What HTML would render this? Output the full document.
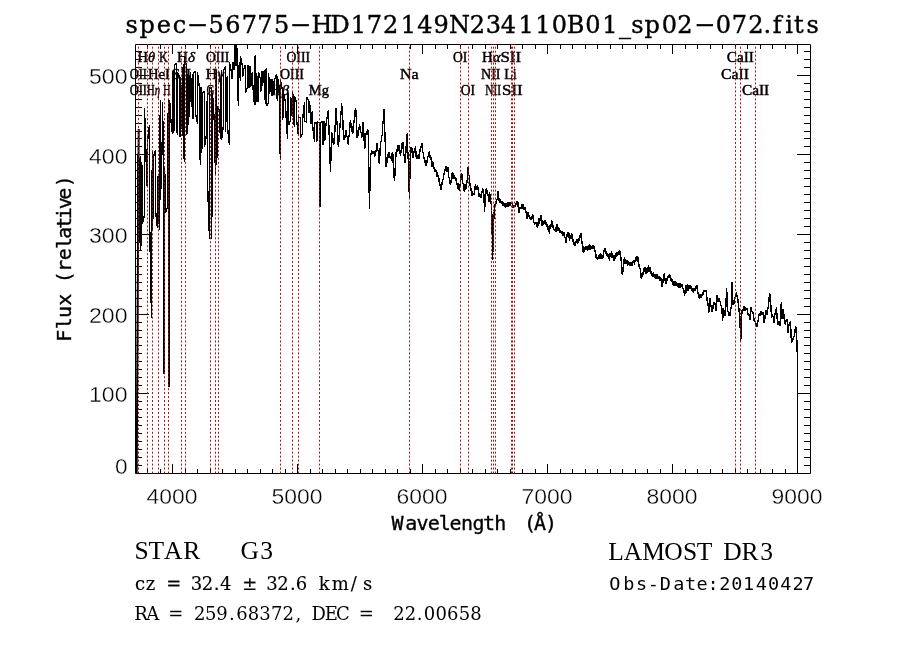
<!DOCTYPE html>
<html><head><meta charset="utf-8"><title>spec-56775-HD172149N234110B01_sp02-072.fits</title>
<style>html,body{margin:0;padding:0;background:#fff;overflow:hidden}svg{display:block}</style>
</head><body><svg width="900" height="649" viewBox="0 0 900 649"><rect x="0" y="0" width="900" height="649" fill="#fff"/><path d="M136.7 473.5L138.7 129" stroke="#000" stroke-width="2" fill="none"/><path d="M138.50 155.00 L137.50 156.00 L137.50 262.00 L139.50 231.38 L139.50 162.26 L140.50 156.00 L140.50 250.00 L141.50 238.00 L141.50 162.00 L142.50 170.00 L142.50 223.50 L144.50 215.00 L144.50 108.00 L146.50 170.54 L146.50 183.84 L147.50 186.23 L147.50 141.89 L149.50 125.00 L149.50 215.00 L151.50 318.00 L151.50 220.00 L152.50 150.00 L152.50 230.00 L153.50 195.28 L153.50 156.41 L155.50 150.00 L155.50 210.00 L157.50 228.28 L157.50 177.32 L158.50 176.39 L158.50 210.81 L159.50 230.00 L159.50 152.00 L160.50 100.00 L160.50 200.00 L162.50 131.64 L162.50 102.36 L163.50 160.00 L163.50 373.00 L164.50 374.00 L164.50 166.00 L165.50 190.07 L165.50 213.23 L167.50 207.09 L167.50 145.98 L168.50 100.00 L168.50 386.00 L169.50 386.00 L169.50 100.00 L170.50 110.28 L170.50 116.29 L172.50 134.33 L172.50 75.33 L173.50 70.00 L173.50 133.00 L174.50 127.67 L174.50 65.33 L176.50 63.00 L176.50 130.00 L177.50 134.67 L177.50 72.33 L179.50 77.00 L179.50 137.00 L180.50 136.33 L180.50 77.00 L181.50 103.06 L181.50 111.83 L182.50 136.00 L182.50 77.00 L183.50 63.67 L183.50 153.33 L184.50 162.00 L184.50 57.00 L186.50 66.67 L186.50 135.33 L187.50 130.21 L187.50 78.51 L188.50 72.00 L188.50 125.00 L189.50 101.10 L189.50 84.82 L190.50 71.68 L190.50 91.39 L191.50 106.56 L191.50 89.15 L192.50 74.00 L192.50 118.33 L193.50 118.33 L193.50 73.67 L195.50 71.00 L195.50 113.00 L197.50 124.00 L197.50 72.00 L199.50 88.00 L199.50 148.33 L200.50 165.00 L200.50 88.00 L201.50 88.00 L201.50 153.00 L202.50 139.64 L202.50 93.00 L204.50 91.33 L204.50 147.00 L206.50 134.42 L206.50 119.81 L207.50 93.00 L207.50 182.33 L209.50 239.00 L209.50 88.00 L211.50 88.00 L211.50 239.00 L212.50 168.77 L212.50 93.43 L214.50 124.70 L214.50 133.01 L215.50 175.00 L215.50 70.00 L216.50 71.33 L216.50 165.00 L217.50 143.15 L217.50 105.72 L219.50 110.74 L219.50 117.18 L220.50 138.57 L220.50 98.61 L221.50 70.00 L221.50 140.00 L223.50 125.00 L223.50 70.00 L225.50 66.67 L225.50 131.67 L226.50 101.89 L226.50 80.14 L227.50 76.13 L227.50 127.06 L229.50 145.00 L229.50 62.00 L231.50 72.16 L231.50 77.38 L232.50 78.77 L232.50 62.59 L233.50 62.34 L233.50 69.12 L234.50 70.00 L234.50 46.33 L235.50 44.00 L235.50 65.00 L236.50 65.00 L236.50 44.00 L237.50 55.43 L237.50 89.77 L238.50 106.00 L238.50 72.00 L239.50 62.24 L239.50 71.67 L240.50 81.00 L240.50 56.00 L242.50 66.45 L242.50 77.15 L243.50 73.26 L243.50 69.33 L245.50 65.00 L245.50 93.00 L247.50 87.00 L247.50 66.00 L248.50 66.00 L248.50 87.00 L249.50 87.00 L249.50 66.67 L250.50 67.00 L250.50 87.00 L251.50 82.79 L251.50 76.04 L252.50 72.32 L252.50 81.76 L254.50 104.90 L254.50 59.58 L255.50 55.00 L255.50 105.00 L256.50 96.94 L256.50 72.72 L257.50 83.76 L257.50 100.41 L258.50 102.00 L258.50 72.00 L260.50 79.11 L260.50 92.14 L261.50 86.87 L261.50 71.76 L262.50 71.97 L262.50 85.50 L263.50 78.56 L263.50 73.71 L264.50 70.12 L264.50 90.40 L265.50 103.69 L265.50 70.61 L266.50 68.00 L266.50 106.00 L268.50 102.33 L268.50 73.00 L269.50 86.18 L269.50 93.76 L270.50 87.94 L270.50 80.14 L271.50 79.00 L271.50 95.00 L272.50 95.00 L272.50 79.00 L273.50 85.66 L273.50 93.71 L274.50 92.67 L274.50 80.22 L276.50 74.24 L276.50 92.07 L277.50 101.33 L277.50 76.00 L279.50 95.37 L279.50 138.07 L280.50 160.00 L280.50 80.00 L282.50 90.00 L282.50 119.67 L283.50 115.33 L283.50 92.00 L285.50 102.63 L285.50 105.78 L287.50 139.00 L287.50 88.00 L288.50 102.96 L288.50 125.34 L290.50 119.91 L290.50 97.38 L291.50 99.42 L291.50 113.91 L292.50 117.00 L292.50 90.67 L293.50 101.26 L293.50 118.43 L294.50 127.00 L294.50 96.00 L296.50 102.38 L296.50 118.91 L298.50 136.00 L298.50 117.00 L300.50 117.67 L300.50 138.00 L302.50 133.75 L302.50 121.04 L304.50 102.33 L304.50 121.33 L306.50 122.00 L306.50 97.00 L308.50 100.41 L308.50 110.48 L309.50 113.39 L309.50 101.20 L310.50 112.85 L310.50 122.89 L311.50 123.54 L311.50 114.77 L312.50 110.90 L312.50 124.33 L314.50 142.00 L314.50 123.00 L316.50 122.67 L316.50 141.33 L317.50 140.00 L317.50 122.00 L319.50 123.00 L319.50 206.00 L320.50 206.00 L320.50 123.00 L322.50 121.00 L322.50 144.00 L323.50 144.00 L323.50 121.00 L324.50 122.33 L324.50 141.33 L325.50 137.92 L325.50 127.65 L328.33 110.00 L328.89 128.00 L329.44 139.07 L330.00 158.94 L330.56 172.22 L331.11 149.69 L331.67 133.33 L332.22 133.67 L332.78 143.23 L333.33 140.02 L333.89 144.44 L334.44 133.93 L335.00 130.74 L335.56 115.07 L336.11 107.78 L336.67 118.84 L337.22 125.27 L337.78 138.59 L338.33 146.67 L338.89 141.43 L339.44 130.89 L340.00 127.13 L340.56 116.20 L341.11 113.15 L341.67 103.33 L342.22 114.88 L342.78 118.96 L343.33 133.38 L343.89 140.00 L344.44 135.60 L345.00 138.12 L345.56 131.15 L346.11 131.11 L346.67 136.94 L347.22 136.22 L347.78 143.47 L348.33 144.44 L348.89 136.37 L349.44 134.69 L350.00 124.22 L350.56 120.00 L351.11 126.46 L351.67 123.89 L352.22 131.89 L352.78 133.33 L353.36 131.00 L353.93 121.00 L354.51 119.65 L355.09 110.16 L355.67 107.78 L356.19 116.07 L356.70 130.51 L357.22 137.78 L357.78 136.98 L358.33 128.70 L358.89 129.86 L359.44 124.44 L360.00 126.39 L360.56 133.27 L361.11 132.39 L361.67 137.78 L362.19 134.41 L362.70 125.17 L363.22 122.22 L363.89 134.21 L364.56 148.89 L365.07 145.88 L365.59 136.02 L366.11 133.33 L366.67 131.37 L367.22 135.09 L367.78 129.45 L368.33 132.22 L368.89 172.23 L369.44 208.89 L370.00 182.93 L370.56 153.33 L371.11 154.87 L371.67 150.51 L372.22 153.65 L372.78 151.11 L373.33 153.56 L373.89 151.40 L374.44 155.91 L375.00 155.56 L375.56 150.89 L376.11 151.97 L376.67 143.34 L377.22 143.33 L377.78 150.15 L378.33 151.57 L378.89 160.80 L379.44 164.44 L380.00 151.26 L380.56 142.22 L381.15 141.89 L381.74 136.00 L382.33 135.56 L382.85 122.77 L383.37 120.39 L383.89 108.89 L384.44 125.10 L385.00 135.36 L385.56 153.90 L386.11 166.67 L386.67 164.69 L387.22 157.26 L387.78 158.22 L388.33 153.33 L388.89 152.37 L389.44 157.98 L390.00 155.89 L390.56 158.89 L391.11 155.91 L391.67 161.11 L392.22 152.67 L392.78 153.33 L393.30 165.24 L393.81 168.25 L394.33 181.11 L394.93 174.33 L395.52 160.97 L396.11 153.33 L396.67 148.69 L397.22 152.07 L397.78 145.47 L398.33 145.56 L398.89 145.67 L399.44 154.06 L400.00 151.44 L400.56 155.56 L401.11 149.66 L401.67 150.70 L402.22 142.95 L402.78 142.22 L403.33 144.87 L403.89 154.90 L404.44 154.94 L405.00 163.33 L405.56 158.32 L406.11 146.52 L406.67 143.31 L407.22 133.33 L407.78 151.08 L408.33 161.76 L408.89 183.81 L409.44 197.78 L410.00 170.51 L410.56 146.67 L411.11 147.85 L411.67 153.10 L412.22 148.51 L412.78 156.67 L413.33 157.50 L413.89 151.30 L414.44 152.50 L415.00 148.89 L415.56 145.66 L416.11 156.64 L416.67 154.65 L417.22 158.89 L417.78 158.39 L418.33 153.64 L418.89 159.00 L419.44 151.11 L420.00 151.14 L420.56 145.83 L421.11 148.03 L421.67 143.33 L422.22 143.30 L422.78 153.33 L423.33 151.83 L423.89 157.78 L424.44 157.61 L425.00 163.34 L425.56 159.77 L426.11 165.56 L426.69 160.61 L427.27 162.93 L427.84 155.80 L428.42 156.66 L429.00 152.22 L429.53 152.02 L430.07 157.45 L430.60 154.69 L431.13 159.78 L431.67 160.00 L432.22 166.88 L432.78 161.22 L433.33 168.40 L433.89 168.89 L434.44 166.85 L435.00 172.05 L435.56 169.14 L436.11 171.11 L436.67 170.31 L437.22 176.98 L437.78 174.65 L438.33 177.78 L438.89 178.82 L439.44 184.85 L440.00 184.76 L440.56 188.89 L441.11 189.17 L441.67 181.88 L442.22 184.56 L442.78 180.00 L443.33 179.31 L443.89 173.25 L444.44 174.73 L445.00 168.60 L445.56 171.00 L446.11 166.67 L446.67 166.44 L447.22 171.69 L447.78 166.73 L448.33 173.33 L448.89 177.50 L449.44 177.38 L450.00 183.36 L450.56 184.44 L451.11 180.04 L451.67 181.09 L452.22 172.36 L452.78 174.44 L453.33 173.32 L453.89 178.51 L454.44 174.90 L455.00 177.78 L455.56 181.36 L456.11 178.45 L456.67 184.49 L457.22 184.44 L457.78 182.90 L458.33 190.39 L458.89 187.00 L459.44 191.11 L460.00 184.33 L460.56 184.08 L461.11 175.37 L461.67 173.33 L462.22 174.86 L462.78 183.82 L463.33 184.16 L463.89 190.00 L464.44 191.88 L465.00 183.84 L465.56 190.16 L466.11 187.78 L466.67 180.11 L467.22 183.17 L467.78 169.70 L468.33 166.67 L468.89 175.70 L469.44 176.79 L470.00 185.55 L470.69 186.66 L471.39 192.48 L471.91 195.59 L472.43 190.67 L472.95 195.07 L473.47 193.87 L474.16 194.45 L474.85 189.71 L475.37 184.21 L475.89 189.80 L476.41 185.96 L476.93 186.93 L477.63 185.45 L478.32 191.10 L479.02 197.37 L479.71 193.87 L480.26 194.34 L480.82 198.03 L481.79 193.18 L482.48 189.26 L483.18 189.71 L483.87 194.56 L484.56 211.90 L485.53 193.87 L486.09 189.32 L486.64 189.02 L487.34 194.59 L488.03 195.26 L488.55 194.05 L489.07 201.72 L489.59 191.58 L490.11 197.34 L491.08 202.19 L491.91 216.06 L492.61 259.75 L493.58 224.38 L494.41 207.74 L495.03 204.59 L495.66 204.97 L496.35 200.10 L497.05 199.42 L497.60 197.23 L498.16 191.10 L499.13 200.80 L499.82 202.44 L500.51 199.42 L501.21 202.32 L501.90 201.50 L502.59 206.37 L503.29 203.58 L503.98 202.77 L504.67 207.05 L505.19 204.71 L505.71 208.27 L506.23 203.22 L506.75 205.66 L507.27 207.02 L507.79 202.09 L508.31 207.23 L508.83 202.19 L509.53 206.17 L510.22 204.97 L510.92 201.97 L511.61 204.27 L512.13 202.72 L512.65 208.28 L513.17 204.96 L513.69 207.74 L514.38 204.69 L515.08 207.05 L515.77 203.55 L516.46 204.97 L517.16 201.75 L517.85 202.19 L518.54 210.35 L519.24 213.29 L519.93 207.96 L520.62 207.74 L521.23 208.41 L521.83 203.94 L522.43 205.66 L522.98 209.33 L523.54 203.91 L524.09 209.82 L524.79 207.57 L525.48 209.13 L526.17 212.37 L526.87 218.83 L527.56 217.07 L528.25 211.90 L528.95 216.07 L529.64 216.06 L530.33 219.85 L531.03 218.83 L531.72 219.12 L532.41 214.67 L533.11 215.93 L533.80 221.61 L534.49 224.21 L535.19 223.69 L535.88 222.24 L536.57 224.38 L537.27 227.44 L537.96 225.77 L538.49 218.37 L539.01 224.14 L539.54 218.22 L540.06 220.55 L540.59 215.71 L541.11 215.56 L541.67 217.89 L542.22 225.56 L542.78 223.03 L543.33 225.40 L543.89 220.68 L544.44 222.22 L545.00 224.16 L545.56 220.40 L546.11 224.52 L546.67 223.33 L547.22 226.45 L547.78 225.28 L548.33 230.97 L548.89 230.00 L549.44 234.00 L550.00 225.03 L550.56 228.48 L551.11 225.56 L551.67 219.92 L552.22 224.44 L552.78 227.60 L553.33 225.11 L553.89 230.31 L554.44 228.89 L555.00 230.51 L555.56 227.09 L556.11 231.55 L556.67 228.89 L557.22 223.77 L557.78 231.22 L558.33 227.55 L558.89 230.00 L559.44 227.94 L560.00 232.64 L560.56 230.34 L561.11 232.22 L561.67 233.89 L562.22 231.28 L562.78 235.62 L563.33 233.33 L563.89 231.82 L564.44 238.03 L565.00 236.86 L565.56 240.00 L566.11 242.97 L566.67 233.78 L567.22 236.46 L567.78 232.22 L568.33 236.09 L568.89 232.78 L569.44 241.36 L570.00 236.67 L570.56 234.74 L571.11 239.31 L571.67 233.44 L572.22 237.78 L572.78 242.06 L573.33 238.82 L573.89 245.19 L574.44 244.44 L575.00 242.49 L575.56 245.42 L576.11 241.03 L576.67 243.33 L577.22 239.23 L577.78 243.67 L578.33 238.06 L578.89 240.00 L579.44 240.30 L580.00 234.77 L580.56 237.62 L581.11 233.33 L581.67 240.32 L582.22 244.44 L582.78 245.79 L583.33 253.33 L583.89 251.77 L584.44 246.67 L585.00 249.73 L585.56 246.02 L586.11 250.00 L586.67 248.89 L587.22 246.53 L587.78 250.51 L588.33 245.77 L588.89 246.67 L589.44 244.16 L590.00 249.77 L590.56 245.40 L591.11 247.78 L591.67 245.76 L592.22 249.08 L592.78 245.50 L593.33 246.67 L593.89 249.14 L594.44 246.61 L595.00 251.75 L595.56 251.11 L596.11 257.42 L596.67 258.89 L597.22 256.81 L597.78 259.57 L598.33 255.82 L598.89 256.67 L599.44 253.72 L600.00 258.87 L600.56 253.15 L601.11 255.56 L601.67 254.61 L602.22 258.83 L602.78 254.75 L603.33 257.78 L603.89 251.49 L604.44 248.89 L605.00 248.10 L605.56 253.88 L606.11 250.67 L606.67 253.33 L607.22 256.31 L607.78 253.42 L608.33 258.23 L608.89 256.67 L609.44 260.47 L610.00 253.54 L610.56 256.41 L611.11 253.33 L611.67 251.50 L612.22 258.38 L612.78 254.91 L613.33 258.89 L613.89 260.63 L614.44 255.50 L615.00 258.59 L615.56 255.56 L616.11 253.34 L616.67 257.12 L617.22 252.22 L617.78 254.44 L618.33 251.09 L618.89 254.94 L619.44 250.32 L620.00 252.22 L620.56 254.21 L621.11 260.00 L621.63 262.27 L622.15 274.44 L622.67 273.33 L623.33 268.42 L624.00 260.00 L624.53 257.08 L625.07 263.52 L625.60 258.58 L626.13 263.94 L626.67 262.22 L627.22 260.39 L627.78 265.51 L628.33 260.81 L628.89 263.33 L629.44 265.67 L630.00 261.76 L630.56 265.71 L631.11 264.44 L631.67 261.76 L632.22 265.74 L632.78 260.91 L633.33 263.33 L633.89 260.41 L634.44 265.35 L635.00 260.50 L635.56 262.22 L636.11 257.02 L636.67 256.67 L637.22 260.60 L637.78 256.49 L638.33 263.83 L638.89 264.44 L639.44 268.70 L640.00 267.78 L640.56 269.98 L641.11 277.78 L641.67 278.52 L642.22 272.49 L642.78 274.81 L643.33 271.11 L643.89 268.08 L644.44 271.99 L645.00 267.53 L645.56 270.00 L646.11 274.04 L646.67 267.83 L647.22 273.22 L647.78 271.11 L648.33 265.44 L648.89 271.57 L649.44 266.79 L650.00 267.78 L650.56 268.27 L651.11 273.60 L651.67 272.13 L652.22 275.56 L652.78 277.30 L653.33 272.41 L653.89 277.04 L654.44 274.44 L655.00 277.58 L655.56 274.05 L656.11 278.42 L656.67 277.78 L657.22 273.62 L657.78 279.38 L658.33 275.85 L658.89 277.78 L659.44 276.32 L660.00 280.98 L660.56 276.99 L661.11 278.89 L661.67 277.97 L662.22 287.08 L662.78 279.53 L663.33 283.33 L663.89 276.22 L664.44 273.33 L665.00 280.34 L665.56 282.22 L666.11 283.47 L666.67 278.50 L667.22 281.03 L667.78 277.78 L668.33 275.12 L668.89 278.19 L669.44 274.39 L670.00 275.56 L670.56 275.60 L671.11 280.89 L671.67 278.35 L672.22 282.22 L672.78 284.84 L673.33 281.39 L673.89 285.39 L674.44 283.33 L675.00 280.97 L675.56 285.93 L676.11 282.67 L676.67 284.44 L677.22 286.15 L677.78 282.65 L678.33 287.60 L678.89 285.56 L679.44 287.43 L680.00 283.07 L680.56 287.78 L681.11 284.44 L681.67 286.70 L682.22 283.79 L682.78 288.76 L683.33 287.78 L683.89 290.33 L684.44 295.56 L685.00 292.79 L685.56 286.67 L686.11 285.86 L686.67 292.95 L687.22 284.38 L687.78 288.89 L688.33 291.15 L688.89 285.32 L689.44 288.65 L690.00 285.56 L690.56 288.38 L691.11 286.00 L691.67 290.72 L692.22 290.00 L692.78 287.71 L693.33 293.16 L693.89 288.51 L694.44 291.11 L695.00 288.13 L695.56 291.34 L696.11 286.36 L696.67 287.78 L697.22 285.47 L697.78 293.84 L698.33 292.33 L698.89 296.67 L699.46 298.63 L700.04 294.51 L700.61 296.28 L701.22 298.26 L701.83 295.67 L702.44 292.50 L703.06 294.45 L703.67 290.96 L704.28 290.17 L704.89 292.01 L705.50 290.78 L706.11 290.91 L706.72 296.28 L707.33 302.22 L707.95 303.01 L708.80 312.79 L709.78 298.12 L710.39 303.66 L711.00 305.45 L711.61 310.34 L712.22 311.44 L712.84 309.12 L713.45 303.25 L714.06 301.78 L714.67 305.08 L715.28 303.01 L716.14 310.95 L717.11 295.06 L718.09 301.78 L718.70 298.09 L719.32 299.34 L720.17 301.78 L720.78 305.84 L721.39 306.06 L722.00 309.29 L722.62 321.34 L723.47 307.90 L724.45 314.01 L725.06 315.51 L725.67 310.34 L726.65 288.34 L727.51 310.34 L728.36 312.18 L728.89 316.06 L729.42 312.12 L729.95 315.84 L730.56 309.36 L731.17 307.90 L732.03 282.22 L733.01 304.23 L733.62 304.86 L734.23 300.56 L734.84 296.72 L735.45 298.12 L736.31 292.62 L737.29 296.89 L737.90 299.79 L738.51 305.45 L739.12 311.47 L739.73 314.01 L740.71 342.13 L741.56 316.45 L742.18 310.71 L742.79 309.12 L743.40 311.35 L744.01 306.04 L744.62 307.90 L745.15 310.67 L745.68 307.38 L746.21 309.12 L746.94 308.40 L747.68 312.79 L748.29 314.85 L748.90 314.01 L749.88 320.12 L750.49 311.23 L751.10 307.29 L751.71 311.77 L752.32 312.18 L752.93 312.42 L753.55 315.84 L754.16 320.75 L754.77 321.34 L755.50 322.26 L756.23 326.23 L756.85 326.87 L757.46 321.34 L758.07 321.35 L758.68 316.45 L759.41 313.50 L760.15 314.01 L760.68 315.94 L761.21 311.46 L761.74 312.18 L762.27 315.40 L762.80 311.70 L763.33 314.62 L764.06 322.48 L764.79 319.51 L765.40 312.63 L766.01 310.34 L766.63 314.64 L767.24 314.01 L767.85 308.78 L768.46 306.67 L769.07 298.01 L769.68 293.23 L770.66 302.40 L771.52 317.68 L772.13 314.42 L772.74 315.84 L773.35 317.53 L773.96 322.57 L774.57 313.36 L775.18 314.01 L775.79 312.60 L776.41 306.67 L777.02 316.89 L777.63 323.79 L778.24 324.34 L778.85 321.34 L779.46 325.37 L780.07 325.01 L780.68 311.93 L781.30 302.40 L782.15 318.90 L783.13 309.12 L783.74 313.07 L784.35 320.12 L784.96 323.56 L785.57 323.79 L786.19 319.82 L786.80 318.90 L787.41 323.46 L788.02 332.96 L788.63 326.57 L789.24 323.79 L789.85 324.09 L790.46 320.73 L791.44 343.35 L792.30 340.29 L792.91 339.83 L793.52 336.01 L794.13 336.90 L794.74 333.57 L795.60 326.23 L796.33 329.90 L797.19 348.24 L797.80 473.30" stroke="#000" stroke-width="1.4" fill="none" stroke-linejoin="miter" stroke-miterlimit="2" shape-rendering="crispEdges"/><path d="M135.5 44.5H810.5V473.5H135.5ZM147.5 473v-4M147.5 45v4M160.5 473v-4M160.5 45v4M172.5 473v-9M172.5 45v9M185.5 473v-4M185.5 45v4M197.5 473v-4M197.5 45v4M210.5 473v-4M210.5 45v4M222.5 473v-4M222.5 45v4M235.5 473v-4M235.5 45v4M247.5 473v-4M247.5 45v4M260.5 473v-4M260.5 45v4M272.5 473v-4M272.5 45v4M285.5 473v-4M285.5 45v4M297.5 473v-9M297.5 45v9M310.5 473v-4M310.5 45v4M322.5 473v-4M322.5 45v4M335.5 473v-4M335.5 45v4M347.5 473v-4M347.5 45v4M360.5 473v-4M360.5 45v4M372.5 473v-4M372.5 45v4M385.5 473v-4M385.5 45v4M397.5 473v-4M397.5 45v4M410.5 473v-4M410.5 45v4M422.5 473v-9M422.5 45v9M435.5 473v-4M435.5 45v4M447.5 473v-4M447.5 45v4M460.5 473v-4M460.5 45v4M472.5 473v-4M472.5 45v4M485.5 473v-4M485.5 45v4M497.5 473v-4M497.5 45v4M510.5 473v-4M510.5 45v4M522.5 473v-4M522.5 45v4M535.5 473v-4M535.5 45v4M547.5 473v-9M547.5 45v9M560.5 473v-4M560.5 45v4M572.5 473v-4M572.5 45v4M585.5 473v-4M585.5 45v4M597.5 473v-4M597.5 45v4M610.5 473v-4M610.5 45v4M622.5 473v-4M622.5 45v4M635.5 473v-4M635.5 45v4M647.5 473v-4M647.5 45v4M660.5 473v-4M660.5 45v4M672.5 473v-9M672.5 45v9M685.5 473v-4M685.5 45v4M697.5 473v-4M697.5 45v4M710.5 473v-4M710.5 45v4M722.5 473v-4M722.5 45v4M735.5 473v-4M735.5 45v4M747.5 473v-4M747.5 45v4M760.5 473v-4M760.5 45v4M772.5 473v-4M772.5 45v4M785.5 473v-4M785.5 45v4M797.5 473v-9M797.5 45v9M136 465.5h6M810 465.5h-6M136 457.5h6M810 457.5h-6M136 449.5h6M810 449.5h-6M136 441.5h6M810 441.5h-6M136 433.5h6M810 433.5h-6M136 425.5h6M810 425.5h-6M136 417.5h6M810 417.5h-6M136 409.5h6M810 409.5h-6M136 401.5h6M810 401.5h-6M136 393.5h13M810 393.5h-13M136 385.5h6M810 385.5h-6M136 377.5h6M810 377.5h-6M136 369.5h6M810 369.5h-6M136 361.5h6M810 361.5h-6M136 353.5h6M810 353.5h-6M136 345.5h6M810 345.5h-6M136 337.5h6M810 337.5h-6M136 330.5h6M810 330.5h-6M136 322.5h6M810 322.5h-6M136 314.5h13M810 314.5h-13M136 306.5h6M810 306.5h-6M136 298.5h6M810 298.5h-6M136 290.5h6M810 290.5h-6M136 282.5h6M810 282.5h-6M136 274.5h6M810 274.5h-6M136 266.5h6M810 266.5h-6M136 258.5h6M810 258.5h-6M136 250.5h6M810 250.5h-6M136 242.5h6M810 242.5h-6M136 234.5h13M810 234.5h-13M136 226.5h6M810 226.5h-6M136 218.5h6M810 218.5h-6M136 210.5h6M810 210.5h-6M136 202.5h6M810 202.5h-6M136 194.5h6M810 194.5h-6M136 186.5h6M810 186.5h-6M136 178.5h6M810 178.5h-6M136 170.5h6M810 170.5h-6M136 162.5h6M810 162.5h-6M136 154.5h13M810 154.5h-13M136 146.5h6M810 146.5h-6M136 138.5h6M810 138.5h-6M136 131.5h6M810 131.5h-6M136 123.5h6M810 123.5h-6M136 115.5h6M810 115.5h-6M136 107.5h6M810 107.5h-6M136 99.5h6M810 99.5h-6M136 91.5h6M810 91.5h-6M136 83.5h6M810 83.5h-6M136 75.5h13M810 75.5h-13M136 67.5h6M810 67.5h-6M136 59.5h6M810 59.5h-6M136 51.5h6M810 51.5h-6" stroke="#000" stroke-width="1" fill="none"/><g transform="scale(1.0,1)"><text x="131.7 147.2 163.9 179.5" y="32.5" font-size="24" font-family="DejaVu Serif, serif" font-weight="normal" text-anchor="middle" xml:space="preserve" stroke="#000" stroke-width="0.4">spec</text></g><text transform="translate(197.5,0) scale(2.6,1)" x="0" y="32.5" font-size="24" font-family="DejaVu Serif, serif" text-anchor="middle" stroke="#000" stroke-width="0.3">-</text><g transform="scale(1.0,1)"><text x="216.1 232.8 249.5 265.0 281.7" y="32.5" font-size="24" font-family="DejaVu Serif, serif" font-weight="normal" text-anchor="middle" xml:space="preserve" stroke="#000" stroke-width="0.4">56775</text></g><text transform="translate(300.6,0) scale(2.6,1)" x="0" y="32.5" font-size="24" font-family="DejaVu Serif, serif" text-anchor="middle" stroke="#000" stroke-width="0.3">-</text><g transform="scale(1.0,1)"><text x="322.0 340.0 358.4 374.5 390.6 408.4 425.0 441.1 459.5 477.3 493.3 508.4 526.2 542.8 559.5 575.6 592.8 610.0 625.0 637.3 652.2 669.5 685.0" y="32.5" font-size="24" font-family="DejaVu Serif, serif" font-weight="normal" text-anchor="middle" xml:space="preserve" stroke="#000" stroke-width="0.4">HD172149N234110B01_sp02</text></g><text transform="translate(704.7,0) scale(2.6,1)" x="0" y="32.5" font-size="24" font-family="DejaVu Serif, serif" text-anchor="middle" stroke="#000" stroke-width="0.3">-</text><g transform="scale(1.0,1)"><text x="723.4 739.4 755.8 767.4 777.1 789.2 798.9 812.7" y="32.5" font-size="24" font-family="DejaVu Serif, serif" font-weight="normal" text-anchor="middle" xml:space="preserve" stroke="#000" stroke-width="0.4">072.fits</text></g><text x="171.9" y="504" font-size="22" font-family="Liberation Sans, sans-serif" text-anchor="middle" textLength="51" lengthAdjust="spacingAndGlyphs" stroke="#fff" stroke-width="0.35">4000</text><text x="296.9" y="504" font-size="22" font-family="Liberation Sans, sans-serif" text-anchor="middle" textLength="51" lengthAdjust="spacingAndGlyphs" stroke="#fff" stroke-width="0.35">5000</text><text x="421.9" y="504" font-size="22" font-family="Liberation Sans, sans-serif" text-anchor="middle" textLength="51" lengthAdjust="spacingAndGlyphs" stroke="#fff" stroke-width="0.35">6000</text><text x="546.9" y="504" font-size="22" font-family="Liberation Sans, sans-serif" text-anchor="middle" textLength="51" lengthAdjust="spacingAndGlyphs" stroke="#fff" stroke-width="0.35">7000</text><text x="671.9" y="504" font-size="22" font-family="Liberation Sans, sans-serif" text-anchor="middle" textLength="51" lengthAdjust="spacingAndGlyphs" stroke="#fff" stroke-width="0.35">8000</text><text x="796.9" y="504" font-size="22" font-family="Liberation Sans, sans-serif" text-anchor="middle" textLength="51" lengthAdjust="spacingAndGlyphs" stroke="#fff" stroke-width="0.35">9000</text><text x="127.5" y="473.6" font-size="22" font-family="Liberation Sans, sans-serif" text-anchor="end" textLength="12.6" lengthAdjust="spacingAndGlyphs" stroke="#fff" stroke-width="0.35">0</text><text x="127.5" y="402.3" font-size="22" font-family="Liberation Sans, sans-serif" text-anchor="end" textLength="38.5" lengthAdjust="spacingAndGlyphs" stroke="#fff" stroke-width="0.35">100</text><text x="127.5" y="322.70000000000005" font-size="22" font-family="Liberation Sans, sans-serif" text-anchor="end" textLength="38.5" lengthAdjust="spacingAndGlyphs" stroke="#fff" stroke-width="0.35">200</text><text x="127.5" y="243.1" font-size="22" font-family="Liberation Sans, sans-serif" text-anchor="end" textLength="38.5" lengthAdjust="spacingAndGlyphs" stroke="#fff" stroke-width="0.35">300</text><text x="127.5" y="163.49999999999997" font-size="22" font-family="Liberation Sans, sans-serif" text-anchor="end" textLength="38.5" lengthAdjust="spacingAndGlyphs" stroke="#fff" stroke-width="0.35">400</text><text x="127.5" y="83.9" font-size="22" font-family="Liberation Sans, sans-serif" text-anchor="end" textLength="38.5" lengthAdjust="spacingAndGlyphs" stroke="#fff" stroke-width="0.35">500</text><text x="397.6 411.3 422.5 433.7 444.8 455.5 467.1 478.4 489.1 500.3 515.1 530.0 540.1 550.9" y="529.5" font-size="20" font-family="DejaVu Sans Mono, monospace" font-weight="normal" text-anchor="middle" xml:space="preserve" stroke="#000" stroke-width="0.35">Wavelength (Å)</text><g transform="translate(71,0) rotate(-90)"><text x="-335.8 -323.3 -311.9 -299.8 -288.5 -277.3 -266.1 -254.3 -242.9 -232.8 -222.8 -213.3 -203.2 -193.8 -181.3" y="0" font-size="20" font-family="DejaVu Sans Mono, monospace" font-weight="normal" text-anchor="middle" xml:space="preserve" stroke="#000" stroke-width="0.35">Flux (relative)</text></g><text x="137.4" y="61.5" font-size="14.5" font-family="Liberation Serif, serif" text-anchor="start" textLength="17.6" lengthAdjust="spacingAndGlyphs" stroke="#000" stroke-width="0.45">H<tspan font-style="italic">&#952;</tspan></text><text x="159.1" y="61.5" font-size="14.5" font-family="Liberation Serif, serif" text-anchor="start" textLength="8.9" lengthAdjust="spacingAndGlyphs" stroke="#000" stroke-width="0.45">K</text><text x="177" y="61.5" font-size="14.5" font-family="Liberation Serif, serif" text-anchor="start" textLength="18" lengthAdjust="spacingAndGlyphs" stroke="#000" stroke-width="0.45">H<tspan font-style="italic">&#948;</tspan></text><text x="206" y="61.5" font-size="14.5" font-family="Liberation Serif, serif" text-anchor="start" textLength="23.3" lengthAdjust="spacingAndGlyphs" stroke="#000" stroke-width="0.45">OIII</text><text x="286.5" y="61.5" font-size="14.5" font-family="Liberation Serif, serif" text-anchor="start" textLength="23.5" lengthAdjust="spacingAndGlyphs" stroke="#000" stroke-width="0.45">OIII</text><text x="452.9" y="61.5" font-size="14.5" font-family="Liberation Serif, serif" text-anchor="start" textLength="14.3" lengthAdjust="spacingAndGlyphs" stroke="#000" stroke-width="0.45">OI</text><text x="482" y="61.5" font-size="14.5" font-family="Liberation Serif, serif" text-anchor="start" textLength="18.5" lengthAdjust="spacingAndGlyphs" stroke="#000" stroke-width="0.45">H<tspan font-style="italic">&#945;</tspan></text><text x="500.5" y="61.5" font-size="14.5" font-family="Liberation Serif, serif" text-anchor="start" textLength="20.5" lengthAdjust="spacingAndGlyphs" stroke="#000" stroke-width="0.45">SII</text><text x="726.7" y="61.5" font-size="14.5" font-family="Liberation Serif, serif" text-anchor="start" textLength="27.2" lengthAdjust="spacingAndGlyphs" stroke="#000" stroke-width="0.45">CaII</text><text x="129.7" y="78.7" font-size="14.5" font-family="Liberation Serif, serif" text-anchor="start" textLength="17.3" lengthAdjust="spacingAndGlyphs" stroke="#000" stroke-width="0.45">OII</text><text x="148" y="78.7" font-size="14.5" font-family="Liberation Serif, serif" text-anchor="start" textLength="22" lengthAdjust="spacingAndGlyphs" stroke="#000" stroke-width="0.45">HeI</text><text x="171.6" y="78.7" font-size="14.5" font-family="Liberation Serif, serif" text-anchor="start" textLength="19.4" lengthAdjust="spacingAndGlyphs" stroke="#000" stroke-width="0.45">SII</text><text x="205.6" y="78.7" font-size="14.5" font-family="Liberation Serif, serif" text-anchor="start" textLength="18.4" lengthAdjust="spacingAndGlyphs" stroke="#000" stroke-width="0.45">H<tspan font-style="italic">&#947;</tspan></text><text x="280" y="78.7" font-size="14.5" font-family="Liberation Serif, serif" text-anchor="start" textLength="24" lengthAdjust="spacingAndGlyphs" stroke="#000" stroke-width="0.45">OIII</text><text x="399.9" y="78.7" font-size="14.5" font-family="Liberation Serif, serif" text-anchor="start" textLength="18.7" lengthAdjust="spacingAndGlyphs" stroke="#000" stroke-width="0.45">Na</text><text x="481" y="78.7" font-size="14.5" font-family="Liberation Serif, serif" text-anchor="start" textLength="19.5" lengthAdjust="spacingAndGlyphs" stroke="#000" stroke-width="0.45">NII</text><text x="504.2" y="78.7" font-size="14.5" font-family="Liberation Serif, serif" text-anchor="start" textLength="12.5" lengthAdjust="spacingAndGlyphs" stroke="#000" stroke-width="0.45">Li</text><text x="720.9" y="78.7" font-size="14.5" font-family="Liberation Serif, serif" text-anchor="start" textLength="28.0" lengthAdjust="spacingAndGlyphs" stroke="#000" stroke-width="0.45">CaII</text><text x="129.7" y="95.3" font-size="14.5" font-family="Liberation Serif, serif" text-anchor="start" textLength="17.3" lengthAdjust="spacingAndGlyphs" stroke="#000" stroke-width="0.45">OII</text><text x="147" y="95.3" font-size="14.5" font-family="Liberation Serif, serif" text-anchor="start" textLength="13" lengthAdjust="spacingAndGlyphs" stroke="#000" stroke-width="0.45">H<tspan font-style="italic">&#951;</tspan></text><text x="163" y="95.3" font-size="14.5" font-family="Liberation Serif, serif" text-anchor="start" textLength="7.5" lengthAdjust="spacingAndGlyphs" stroke="#000" stroke-width="0.45">H</text><text x="206.5" y="95.3" font-size="14.5" font-family="Liberation Serif, serif" text-anchor="start" textLength="8.0" lengthAdjust="spacingAndGlyphs" stroke="#000" stroke-width="0.45">G</text><text x="271" y="95.3" font-size="14.5" font-family="Liberation Serif, serif" text-anchor="start" textLength="18" lengthAdjust="spacingAndGlyphs" stroke="#000" stroke-width="0.45">H<tspan font-style="italic">&#946;</tspan></text><text x="308.7" y="95.3" font-size="14.5" font-family="Liberation Serif, serif" text-anchor="start" textLength="20.3" lengthAdjust="spacingAndGlyphs" stroke="#000" stroke-width="0.45">Mg</text><text x="460.7" y="95.3" font-size="14.5" font-family="Liberation Serif, serif" text-anchor="start" textLength="14.3" lengthAdjust="spacingAndGlyphs" stroke="#000" stroke-width="0.45">OI</text><text x="485.2" y="95.3" font-size="14.5" font-family="Liberation Serif, serif" text-anchor="start" textLength="15.8" lengthAdjust="spacingAndGlyphs" stroke="#000" stroke-width="0.45">NII</text><text x="502" y="95.3" font-size="14.5" font-family="Liberation Serif, serif" text-anchor="start" textLength="20.7" lengthAdjust="spacingAndGlyphs" stroke="#000" stroke-width="0.45">SII</text><text x="741.9" y="95.3" font-size="14.5" font-family="Liberation Serif, serif" text-anchor="start" textLength="27.3" lengthAdjust="spacingAndGlyphs" stroke="#000" stroke-width="0.45">CaII</text><path d="M138.5 473.5V44 M147.5 473.5V44 M152.5 473.5V44 M158.5 473.5V44 M164.5 473.5V44 M168.5 473.5V44 M181.5 473.5V44 M185.5 473.5V44 M210.5 473.5V44 M215.5 473.5V44 M218.5 473.5V44 M280.5 473.5V44 M292.5 473.5V44 M298.5 473.5V44 M319.5 473.5V44 M409.5 473.5V44 M460.5 473.5V44 M468.5 473.5V44 M491.5 473.5V44 M493.5 473.5V44 M495.5 473.5V44 M511.5 473.5V44 M512.5 473.5V44 M514.5 473.5V44 M735.5 473.5V44 M740.5 473.5V44 M755.5 473.5V44" stroke="#b01010" stroke-width="1" stroke-dasharray="1.985 1.985" fill="none"/><text x="141.7 156.3 173.3 191.7" y="559.4" font-size="25.5" font-family="Liberation Serif, serif" font-weight="normal" text-anchor="middle" xml:space="preserve">STAR</text><text x="249.6 266.7" y="559.4" font-size="25.5" font-family="Liberation Serif, serif" font-weight="normal" text-anchor="middle" xml:space="preserve">G3</text><text x="616.0 633.0 653.5 673.5 690.0 704.5 718.5 732.5 750.0 766.5" y="559.5" font-size="25.5" font-family="Liberation Serif, serif" font-weight="normal" text-anchor="middle" xml:space="preserve">LAMOST DR3</text><text x="140.1 150.6 162.2 173.8 185.1 196.4 207.4 216.7 225.7 237.8 249.9 260.9 271.9 283.1 292.9 301.4 312.9 324.3 340.4 353.9 367.5" y="589.5" font-size="18" font-family="DejaVu Serif, serif" font-weight="normal" text-anchor="middle" xml:space="preserve" stroke="#000" stroke-width="0.15">cz = 32.4 ± 32.6 km/s</text><text x="614.7 628.7 641.6 653.2 665.4 678.9 690.5 702.1 713.0 718.8 724.7 736.9 748.6 761.4 773.6 785.8 798.0 808.5" y="589.6" font-size="18.5" font-family="DejaVu Sans Mono, monospace" font-weight="normal" text-anchor="middle" xml:space="preserve">Obs-Date: 20140427</text><text x="141.1 152.7 164.3 175.9 187.8 199.7 210.8 221.9 231.9 241.9 253.5 265.1 276.7 288.3 298.4 308.5 318.7 331.4 343.0 354.6 366.2 377.1 388.1 399.0 410.6 419.6 429.6 441.2 452.8 464.4 476.0" y="619.5" font-size="18" font-family="DejaVu Serif, serif" font-weight="normal" text-anchor="middle" xml:space="preserve">RA = 259.68372, DEC =  22.00658</text></svg></body></html>
